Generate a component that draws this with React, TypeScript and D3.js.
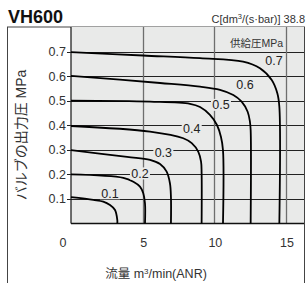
import { useEffect, useRef } from "react";
import * as d3 from "d3";

const W = 307;
const H = 283;

// supply pressure curves: [flow m3/min, outlet pressure MPa]
const supply = ["0.1", "0.2", "0.3", "0.4", "0.5", "0.6", "0.7"];
const curve01 = [[0, 0.107], [1.56, 0.096], [2.25, 0.089], [2.72, 0.075], [3.07, 0.055], [3.23, 0.014], [3.23, 0]];
const curve02 = [[0, 0.2], [3.65, 0.186], [4.35, 0.17], [4.81, 0.15], [5.04, 0.123], [5.16, 0.082], [5.16, 0]];
const curve03 = [[0, 0.299], [3.91, 0.271], [5.51, 0.259], [6.21, 0.242], [6.67, 0.211], [6.9, 0.164], [6.97, 0.109], [6.97, 0]];
const curve04 = [[0, 0.397], [5.51, 0.374], [7.83, 0.347], [8.42, 0.327], [8.88, 0.292], [9.07, 0.252], [9.11, 0.204], [9.11, 0]];
const curve05 = [[0, 0.5], [5.51, 0.496], [8.3, 0.487], [9.0, 0.474], [9.69, 0.442], [10.18, 0.401], [10.46, 0.352], [10.6, 0.299], [10.6, 0]];
const curve06 = [[0, 0.601], [6.21, 0.572], [9.0, 0.557], [10.39, 0.544], [11.32, 0.523], [11.9, 0.496], [12.32, 0.455], [12.48, 0.414], [12.53, 0.381], [12.53, 0]];
const curve07 = [[0, 0.698], [5.02, 0.684], [9.0, 0.673], [12.0, 0.659], [13.18, 0.632], [14.0, 0.584], [14.39, 0.53], [14.53, 0.476], [14.53, 0]];
const curves = [curve01, curve02, curve03, curve04, curve05, curve06, curve07];

// where each curve's label sits
const labelPos = [[2.72, 0.123], [4.81, 0.204], [6.44, 0.29], [8.42, 0.388], [10.46, 0.483], [12.13, 0.567], [14.16, 0.662]];

const xTicks = [0, 5, 10, 15];
const yTicks = [0.1, 0.2, 0.3, 0.4, 0.5, 0.6, 0.7];

const latin = "'Liberation Sans', Arial, sans-serif";
const cjk = "'Liberation Sans', 'Noto Sans CJK JP', sans-serif";

export default function App() {
  const ref = useRef<SVGSVGElement | null>(null);

  useEffect(() => {
    const svg = d3.select(ref.current);
    svg.selectAll("*").remove();

    const x = d3.scaleLinear().domain([0, 16.25]).range([71, 304]);
    const y = d3.scaleLinear().domain([0, 0.8]).range([223.5, 27]);

    // outer frame
    svg.append("rect")
      .attr("x", 7.5).attr("y", 27).attr("width", 297).attr("height", 270)
      .attr("fill", "#fff").attr("stroke", "#444").attr("stroke-width", 1);

    // plot area
    svg.append("rect")
      .attr("x", x(0)).attr("y", y(0.8))
      .attr("width", x(16.25) - x(0)).attr("height", y(0) - y(0.8))
      .attr("fill", "#e9eae9");

    const grid = svg.append("g");
    grid.selectAll("line.h").data(yTicks).join("line")
      .attr("x1", x(0)).attr("x2", x(16.25))
      .attr("y1", (d) => Math.round(y(d)) + 0.5).attr("y2", (d) => Math.round(y(d)) + 0.5)
      .attr("stroke", "#222").attr("stroke-width", 1);
    grid.selectAll("line.v").data(xTicks.slice(1)).join("line")
      .attr("x1", (d) => Math.round(x(d)) + 0.5).attr("x2", (d) => Math.round(x(d)) + 0.5)
      .attr("y1", y(0.8)).attr("y2", y(0))
      .attr("stroke", "#6e6e6e").attr("stroke-width", 1.3);

    // axes lines
    svg.append("line")
      .attr("x1", x(0)).attr("x2", x(0)).attr("y1", y(0.8)).attr("y2", y(0))
      .attr("stroke", "#111").attr("stroke-width", 1.2);
    svg.append("line")
      .attr("x1", x(0)).attr("x2", x(16.25)).attr("y1", y(0)).attr("y2", y(0))
      .attr("stroke", "#111").attr("stroke-width", 1.5);

    const line = d3.line<number[]>()
      .x((d) => x(d[0]))
      .y((d) => y(d[1]))
      .curve(d3.curveCatmullRom.alpha(0.5));

    svg.append("g").selectAll("path").data(curves).join("path")
      .attr("d", (d) => line(d))
      .attr("fill", "none").attr("stroke", "#000").attr("stroke-width", 1.8);

    // curve labels with background
    const lab = svg.append("g").selectAll("g").data(supply).join("g")
      .attr("transform", (_, i) => `translate(${x(labelPos[i][0])},${y(labelPos[i][1])})`);
    lab.append("rect")
      .attr("x", -10).attr("y", -6).attr("width", 20).attr("height", 12)
      .attr("fill", "#e9eae9");
    lab.append("text")
      .attr("text-anchor", "middle").attr("dy", "0.36em")
      .attr("font-family", latin).attr("font-size", 12.5).attr("fill", "#222")
      .text((d) => d);

    // y ticks
    svg.append("g").selectAll("text").data(yTicks).join("text")
      .attr("x", 66).attr("y", (d) => y(d)).attr("dy", "0.35em")
      .attr("text-anchor", "end")
      .attr("font-family", latin).attr("font-size", 12.5).attr("fill", "#333")
      .text((d) => d3.format(".1f")(d));
    svg.append("g").selectAll("line").data(yTicks).join("line")
      .attr("x1", 67).attr("x2", x(0))
      .attr("y1", (d) => Math.round(y(d)) + 0.5).attr("y2", (d) => Math.round(y(d)) + 0.5)
      .attr("stroke", "#222");

    // x ticks
    svg.append("g").selectAll("text").data(xTicks).join("text")
      .attr("x", (d) => x(d) + (d === 0 ? -8 : 1)).attr("y", 247)
      .attr("text-anchor", "middle")
      .attr("font-family", latin).attr("font-size", 12.5).attr("fill", "#333")
      .text((d) => String(d));

    // titles
    svg.append("text").attr("x", 8).attr("y", 22.5)
      .attr("font-family", latin).attr("font-weight", "bold").attr("font-size", 18)
      .attr("fill", "#111").text("VH600");

    const ct = svg.append("text").attr("x", 305).attr("y", 22.5).attr("text-anchor", "end")
      .attr("font-family", latin).attr("font-size", 11).attr("fill", "#333");
    ct.append("tspan").text("C[dm");
    ct.append("tspan").attr("font-size", 7.5).attr("dy", -4).text("3");
    ct.append("tspan").attr("dy", 4).text("/(s·bar)] 38.8");

    svg.append("text").attr("x", 283).attr("y", 47).attr("text-anchor", "end")
      .attr("font-family", cjk).attr("font-size", 10.5).attr("fill", "#333")
      .text("供給圧MPa");

    svg.append("text")
      .attr("transform", `translate(26,135) rotate(-90)`)
      .attr("text-anchor", "middle")
      .attr("font-family", cjk).attr("font-size", 14).attr("fill", "#333")
      .text("バルブの出力圧 MPa");

    const xt = svg.append("text").attr("x", 156).attr("y", 278).attr("text-anchor", "middle")
      .attr("font-family", cjk).attr("font-size", 12.5).attr("fill", "#333");
    xt.append("tspan").text("流量 m");
    xt.append("tspan").attr("font-size", 8).attr("dy", -4).text("3");
    xt.append("tspan").attr("dy", 4).text("/min(ANR)");
  }, []);

  return (
    <svg
      ref={ref}
      width={W}
      height={H}
      style={{ position: "absolute", left: 0, top: 0 }}
    />
  );
}
